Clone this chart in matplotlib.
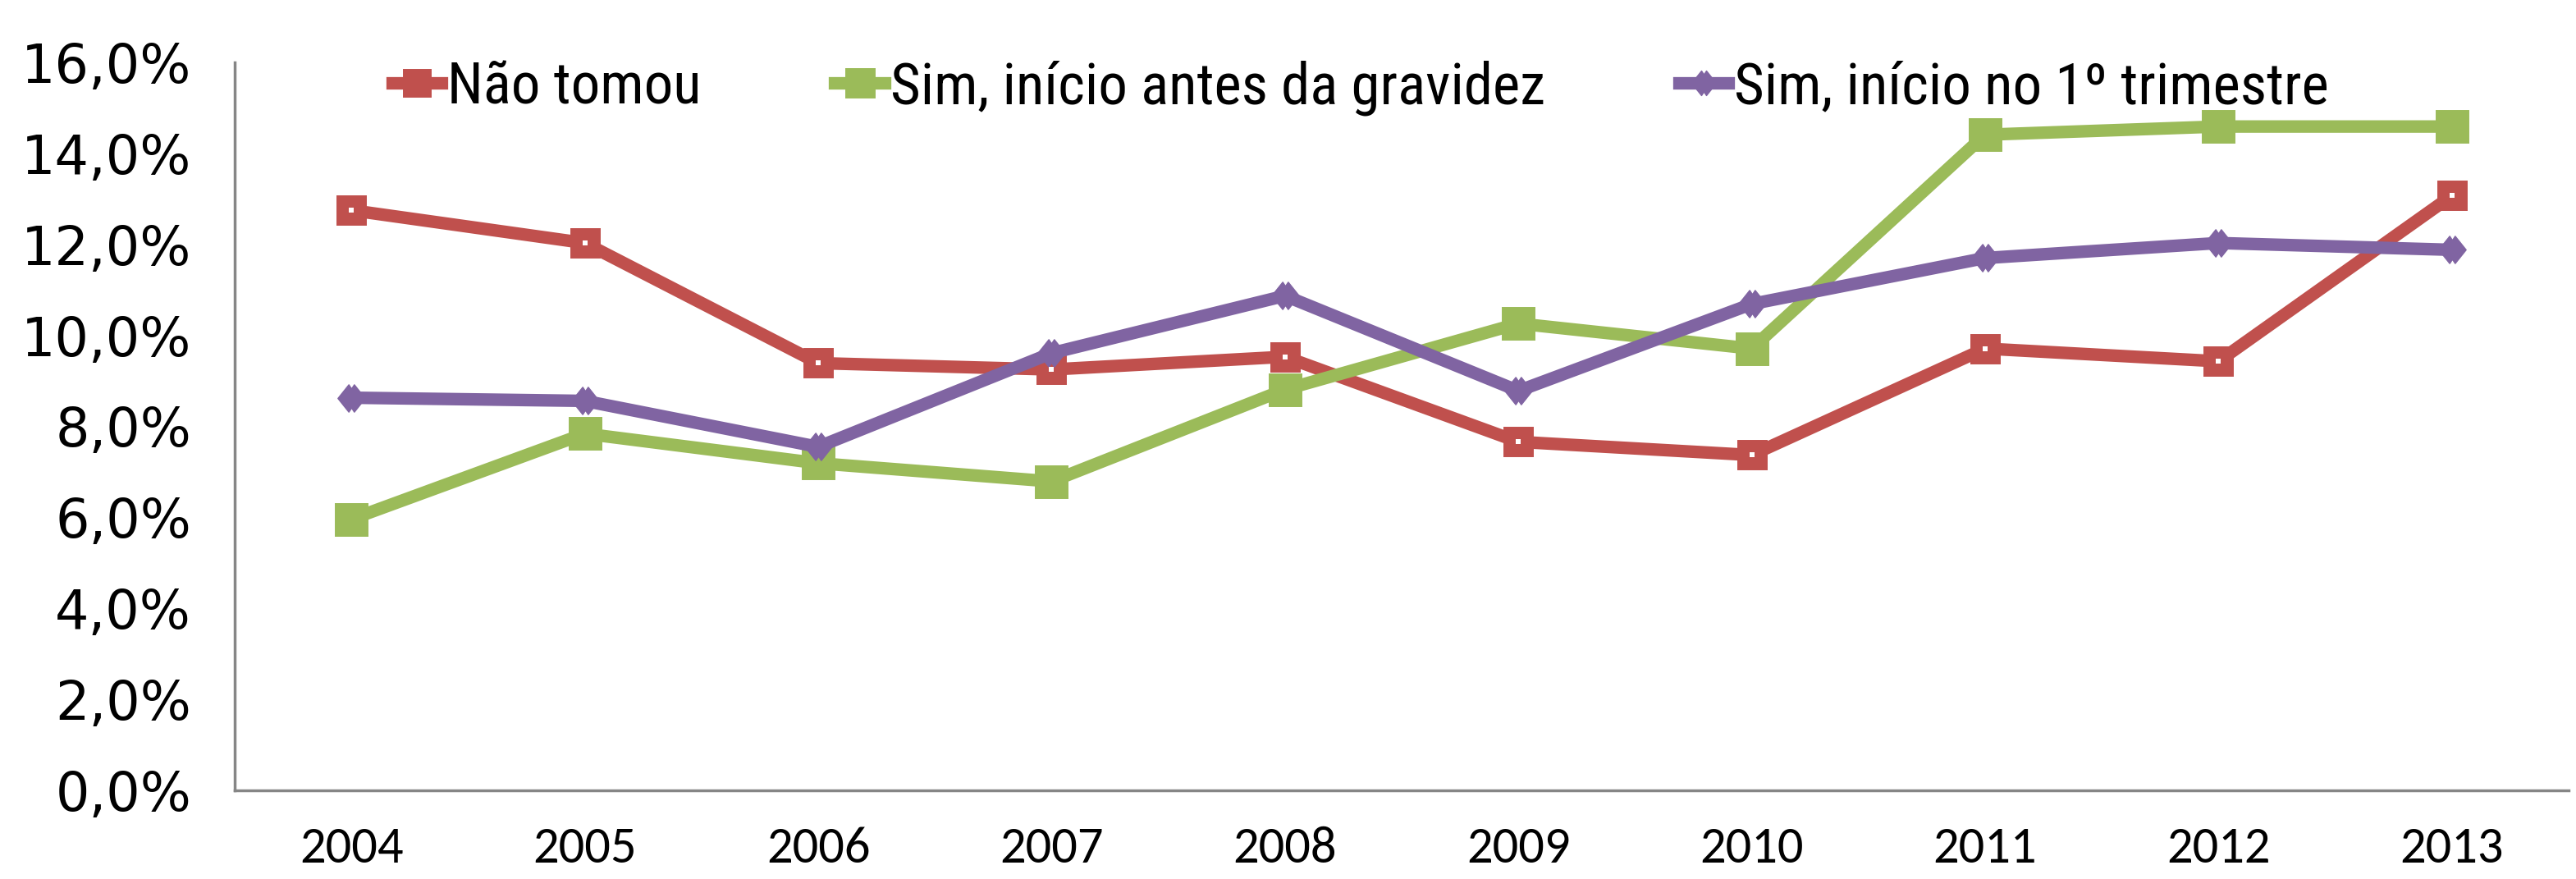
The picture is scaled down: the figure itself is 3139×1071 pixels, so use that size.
import matplotlib
matplotlib.use('Agg')
from matplotlib import pyplot as plt
from matplotlib.path import Path

# Data
anos = ['2004', '2005', '2006', '2007', '2008', '2009', '2010', '2011', '2012', '2013']
nao_tomou = [12.75, 12.03, 9.39, 9.25, 9.53, 7.66, 7.37, 9.71, 9.43, 13.07]
antes_gravidez = [5.96, 7.84, 7.19, 6.79, 8.81, 10.26, 9.71, 14.41, 14.59, 14.59]
primeiro_tri = [8.63, 8.56, 7.55, 9.61, 10.87, 8.78, 10.69, 11.70, 12.03, 11.88]

y_ticks = [0, 2, 4, 6, 8, 10, 12, 14, 16]

RED = '#C0504D'
GREEN = '#9BBB59'
PURPLE = '#8064A2'
AXIS = '#868686'

NARROW = ['Liberation Sans Narrow', 'Nimbus Sans Narrow', 'Arial Narrow',
          'Roboto Condensed', 'Archivo Narrow', 'Liberation Sans']
CALIBRI = ['Carlito', 'Liberation Sans']

# double diamond marker like the excel one
dd_verts = [(-1, 0), (-0.2, 1), (0, 0.7), (0.2, 1), (1, 0),
            (0.2, -1), (0, -0.7), (-0.2, -1), (-1, 0)]
double_diamond = Path(dd_verts, [Path.MOVETO] + [Path.LINETO] * 7 + [Path.CLOSEPOLY])

fig = plt.figure(figsize=(31.39, 10.71), dpi=100)
ax = fig.add_axes([286 / 3139, 1 - 963 / 1071, (3130 - 286) / 3139, (963 - 76) / 1071])

x = list(range(len(anos)))

# Lines with markers
ax.plot(x, nao_tomou, color=RED, linewidth=11, marker='s', markersize=22,
        markeredgewidth=5, markerfacecolor=RED, markeredgecolor=RED,
        solid_joinstyle='round', label='Não tomou', zorder=3)
ax.plot(x, nao_tomou, linestyle='none', marker='s', markersize=5,
        markerfacecolor='white', markeredgewidth=0, zorder=4)
ax.plot(x, antes_gravidez, color=GREEN, linewidth=11, marker='s', markersize=24,
        markeredgewidth=5, markerfacecolor=GREEN, markeredgecolor=GREEN,
        solid_joinstyle='round', label='Sim, início antes da gravidez', zorder=3)
ax.plot(x, primeiro_tri, color=PURPLE, linewidth=11, marker=double_diamond, markersize=24,
        markeredgewidth=1, markerfacecolor=PURPLE, markeredgecolor=PURPLE,
        solid_joinstyle='round', label='Sim, início no 1º trimestre', zorder=3)

ax.set_xlim(-0.5, len(anos) - 0.5)
ax.set_ylim(0, 16)
ax.set_xticks(x)
ax.set_xticklabels(anos, fontsize=45, family=CALIBRI)
ax.set_yticks(y_ticks)
ax.set_yticklabels([f'{v:.1f}%'.replace('.', ',') for v in y_ticks],
                   fontsize=47, family=['DejaVu Sans'])
ax.tick_params(axis='y', length=0, pad=38)
ax.tick_params(axis='x', length=0, pad=32)

for side in ['top', 'right']:
    ax.spines[side].set_visible(False)
for side in ['left', 'bottom']:
    ax.spines[side].set_color(AXIS)
    ax.spines[side].set_linewidth(2.5)

leg = ax.legend(loc='upper left', bbox_to_anchor=(0.045, 1.075), ncol=3, frameon=False,
                prop={'family': NARROW, 'size': 51},
                handlelength=0.85, handletextpad=0.1, columnspacing=2.3,
                markerscale=0.9)

plt.savefig('out.png', dpi=100)
